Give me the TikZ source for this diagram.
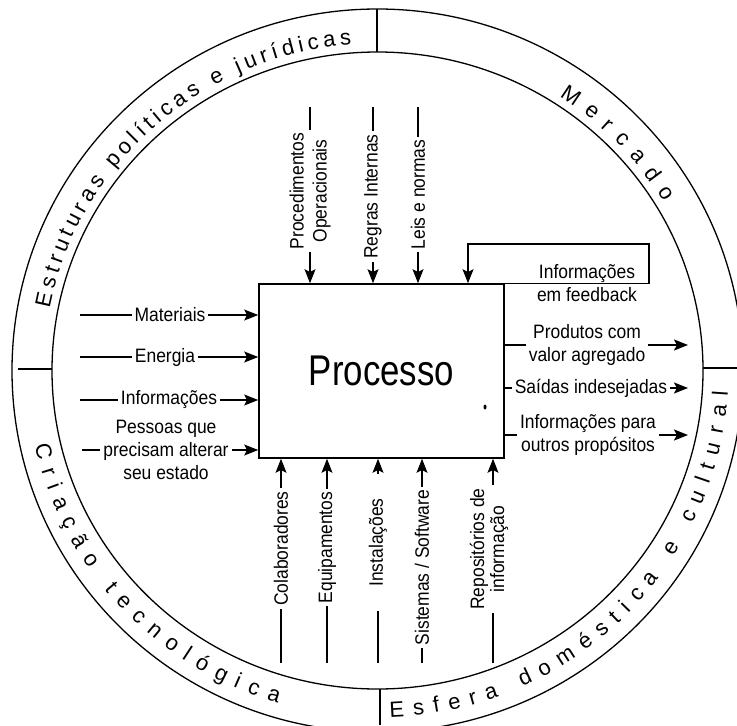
\documentclass[tikz,border=0pt]{standalone}
\usepackage{fontspec}
\setmainfont{Liberation Sans}
\newfontfamily\lblfont{Liberation Sans}[FakeStretch=0.9]
\newfontfamily\procfont{Liberation Sans}[FakeStretch=0.81]
\newcommand\ringfont{\fontsize{11}{12}\selectfont}
\usetikzlibrary{arrows.meta,calc,decorations.text}
\tikzset{arr/.style={-{Stealth[length=7pt,width=5.5pt,inset=1.4pt]}},
  lbl/.style={fill=white,inner sep=1.5pt,align=center,font=\fontsize{9.7}{11.5}\lblfont},
  ring text/.style={decorate,decoration={text along path,text={|\ringfont|#1},
    text align={fit to path}}}}

\begin{document}
\begin{tikzpicture}[x=0.5pt,y=0.5pt,line width=0.65pt]
  \useasboundingbox (0,0) rectangle (737,725);
  \coordinate (O) at (377.5,354.5);
  % the ring round the process
  \draw (O) ellipse[x radius=325.5,y radius=318.5];
  \draw (O) ellipse[x radius=365.5,y radius=361.5];
  \draw (377,673) -- (377,716) (380,0) -- (380,36)
   (18,356) -- (52,356) (703,357) -- (737,357);
  \path[ring text={Estruturas políticas e jurídicas}]
   ($(O)+(169:334 and 327)$) arc[start angle=169,end angle=94.5,x radius=334,y radius=327];
  \path[ring text={Mercado}]
   ($(O)+(57:334 and 327)$) arc[start angle=57,end angle=31,x radius=334,y radius=327];
  \path[ring text={Criação tecnológica}]
   ($(O)+(192.5:351 and 347)$) arc[start angle=192.5,end angle=253.5,x radius=351,y radius=347];
  \path[ring text={Esfera doméstica e cultural}]
   ($(O)+(272:351 and 347)$) arc[start angle=272,end angle=356.5,x radius=351,y radius=347];
  % the process
  \node[draw,line width=0.8pt,minimum width=122.5pt,minimum height=87pt,
   font=\fontsize{21.5}{24}\procfont] (proc) at (381.5,354) {Processo};
  \fill (485,318) ellipse[x radius=1.5,y radius=2.5];
  % inputs from the left
  \foreach \Y/\X/\T [count=\i] in {410/170/Materiais,368/165/Energia,325/169/Informações}
  {\coordinate (in\i) at (80,\Y);
   \draw[arr] (in\i) -- (in\i -| proc.west);
   \node[lbl] (inl\i) at (\X,\Y) {\T};}
  \coordinate (in4) at (82,275);
  \draw[arr] (in4) -- (in4 -| proc.west);
  \node[lbl] (inl4) at (166,275) {Pessoas que\\precisam alterar\\seu estado};
  % controls from above
  \foreach \X/\Y/\T [count=\i] in {310/534/{Procedimentos\\Operacionais},373/528.5/{Regras Internas},418/530.5/{Leis e normas}}
  {\coordinate (ctl\i) at (\X,618);
   \draw[arr] (ctl\i) -- (ctl\i |- proc.north);
   \node[lbl,rotate=90] (ctll\i) at (\X,\Y) {\T};}
  % feedback loop
  \coordinate (fb1) at (649,481);
  \coordinate (fb2) at (468,481);
  \draw[arr] (proc.north east) -- (proc.north east -| fb1) -- (fb1) -- (fb2) -- (fb2 |- proc.north);
  \node[lbl,fill=none] (fbl) at (587,441.5) {Informações\\em feedback};
  % outputs to the right
  \foreach \Y/\X/\T [count=\i] in {380/587/{Produtos com\\valor agregado},337/591/{Saídas indesejadas},290/588/{Informações para\\outros propósitos}}
  {\coordinate (out\i) at (688,\Y);
   \draw[arr] (out\i -| proc.east) -- (out\i);
   \node[lbl] (outl\i) at (\X,\Y) {\T};}
  % resources from below
  \foreach \X/\Y/\T [count=\i] in {281/176.5/Colaboradores,327/177.5/Equipamentos,422/157.5/{Sistemas / Software}}
  {\coordinate (res\i) at (\X,62);
   \draw[arr] (res\i) -- (res\i |- proc.south);
   \node[lbl,rotate=90] (resl\i) at (\X,\Y) {\T};}
  \coordinate (res4) at (378,62);
  \draw[arr] (res4) -- (res4 |- proc.south);
  \node[lbl,rotate=90,inner xsep=12pt] (resl4) at (378,182.5) {Instalações};
  \coordinate (res5) at (493,62);
  \draw[arr] (res5) -- (res5 |- proc.south);
  \node[lbl,rotate=90,font=\fontsize{9.7}{9}\lblfont] (resl5) at (489,176) {Repositórios de\\informação};
\end{tikzpicture}
\end{document}
